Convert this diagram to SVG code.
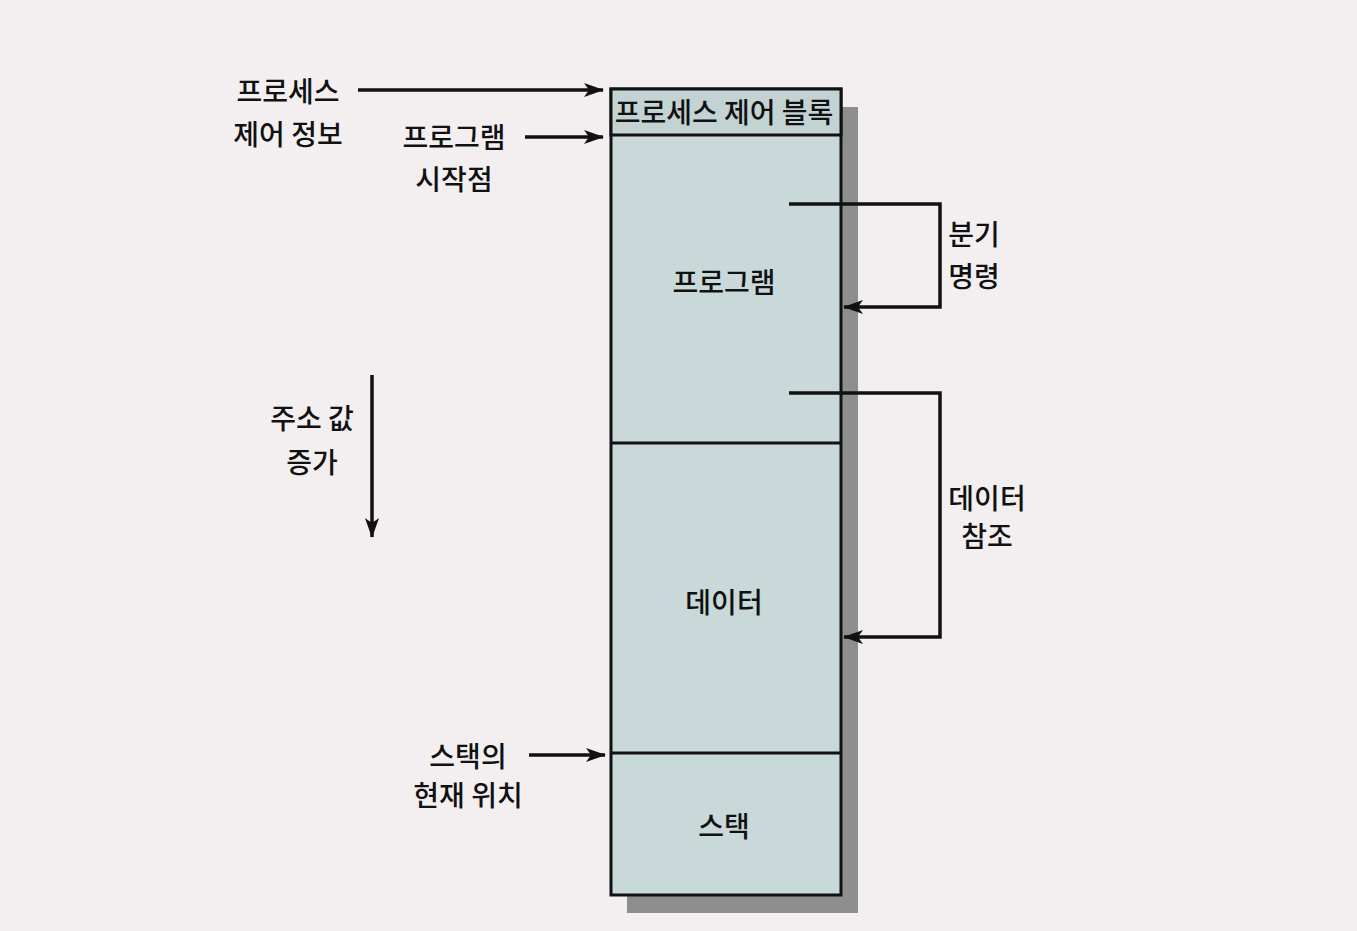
<svg xmlns="http://www.w3.org/2000/svg" width="1357" height="931" viewBox="0 0 1357 931">
<defs>
<style>
.t{font-family:"Noto Sans CJK KR","Noto Sans",sans-serif;font-size:28px;font-weight:500;fill:#111;text-anchor:middle}
.ln{stroke:#111;stroke-width:3.5;fill:none}
.bx{stroke:#111;stroke-width:3}
</style>
<marker id="ah" viewBox="0 0 20 14" refX="19" refY="7" markerWidth="20" markerHeight="14" markerUnits="userSpaceOnUse" orient="auto">
<path d="M0,0 L20,7 L0,14 L5,7 Z" fill="#111"/>
</marker>
</defs>
<rect width="1357" height="931" fill="#f3eff1"/>
<g id="memory">
<rect x="627" y="107" width="231" height="806" fill="#8e8e8e"/>
<rect x="611" y="89" width="230" height="806" fill="#c9d8d8" class="bx"/>
</g>
<g id="pcb">
<rect x="611" y="89" width="230" height="46" fill="#c3d3d4" class="bx"/>
<text class="t" x="724" y="123">프로세스 제어 블록</text>
</g>
<g id="program">
<line x1="611" y1="443" x2="841" y2="443" class="bx"/>
<text class="t" x="724" y="293">프로그램</text>
</g>
<g id="data">
<line x1="611" y1="753" x2="841" y2="753" class="bx"/>
<text class="t" x="724" y="613">데이터</text>
</g>
<g id="stack">
<text class="t" x="724" y="837">스택</text>
</g>
<g id="labels">
<text class="t" x="288" y="102">프로세스</text>
<text class="t" x="288" y="145">제어 정보</text>
<text class="t" x="454" y="148">프로그램</text>
<text class="t" x="454" y="190">시작점</text>
<text class="t" x="312" y="429">주소 값</text>
<text class="t" x="312" y="473">증가</text>
<text class="t" x="468" y="767">스택의</text>
<text class="t" x="468" y="806">현재 위치</text>
<text class="t" x="974" y="245">분기</text>
<text class="t" x="974" y="287">명령</text>
<text class="t" x="987" y="509">데이터</text>
<text class="t" x="987" y="547">참조</text>
</g>
<g id="connectors">
<line x1="358" y1="90" x2="603" y2="90" class="ln" marker-end="url(#ah)"/>
<line x1="525" y1="137" x2="603" y2="137" class="ln" marker-end="url(#ah)"/>
<line x1="529" y1="755" x2="605" y2="755" class="ln" marker-end="url(#ah)"/>
<line x1="372" y1="375" x2="372" y2="537" class="ln" marker-end="url(#ah)"/>
<polyline points="789,204 940,204 940,307 844,307" class="ln" marker-end="url(#ah)"/>
<polyline points="789,393 940,393 940,637 844,637" class="ln" marker-end="url(#ah)"/>
</g>
</svg>
